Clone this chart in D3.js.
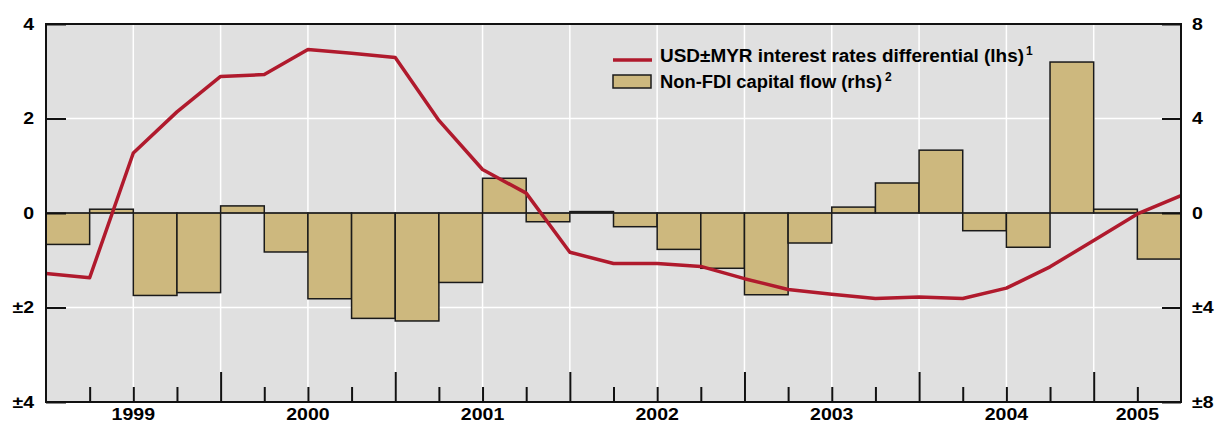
<!DOCTYPE html>
<html>
<head>
<meta charset="utf-8">
<script src="https://cdn.jsdelivr.net/npm/d3@7"></script>
<style>
  body { margin: 0; background: #fff; }
  svg { display: block; font-family: "Liberation Sans", Arial, sans-serif; }
</style>
</head>
<body>
<svg width="1217" height="421"></svg>
<script>
// quarters 1999Q1 .. 2005Q2
const years = [1999, 2000, 2001, 2002, 2003, 2004, 2005];
const quarters = d3.range(26).map(i => `${1999 + Math.floor(i / 4)}Q${i % 4 + 1}`);

// non-FDI capital flow (rhs), one bar per quarter
const capitalFlow = [-1.33, 0.16, -3.49, -3.37, 0.30, -1.65, -3.63, -4.46, -4.57, -2.94,
  1.47, -0.37, 0.06, -0.58, -1.54, -2.34, -3.46, -1.27, 0.25, 1.27,
  2.66, -0.75, -1.45, 6.39, 0.16, -1.95];

// USD-MYR interest rate differential (lhs), at quarter boundaries
const rateDiff = [-1.28, -1.37, 1.27, 2.14, 2.89, 2.93, 3.46, 3.38, 3.29, 1.96,
  0.92, 0.42, -0.83, -1.07, -1.07, -1.13, -1.39, -1.62, -1.72, -1.81,
  -1.78, -1.81, -1.59, -1.14, -0.58, -0.02, 0.37];

const leftTicks = [4, 2, 0, -2, -4];
const rightTicks = [8, 4, 0, -4, -8];

const svg = d3.select('svg');
const plotL = 46, plotR = 1181, plotT = 24, plotB = 402;
const stretch = 1.22; // labels in the original are drawn wide

const x = d3.scaleLinear().domain([0, quarters.length]).range([plotL, plotR]);
const yL = d3.scaleLinear().domain([-4, 4]).range([plotB, plotT]);
const yR = d3.scaleLinear().domain([-8, 8]).range([plotB, plotT]);
const fmt = d => d < 0 ? '\u00b1' + Math.abs(d) : String(d);
// centre of the visible part of each year
const yearMid = i => (i * 4 + Math.min(i * 4 + 4, quarters.length)) / 2;

svg.append('rect')
  .attr('x', plotL).attr('y', plotT)
  .attr('width', plotR - plotL).attr('height', plotB - plotT)
  .attr('fill', '#e0e0e0');

// white grid
const grid = svg.append('g').attr('stroke', '#fff').attr('stroke-width', 1.5);
grid.selectAll('line.v')
  .data(d3.range(2, quarters.length, 2))
  .enter().append('line')
  .attr('x1', d => x(d)).attr('x2', d => x(d))
  .attr('y1', plotT).attr('y2', plotB);
grid.selectAll('line.h')
  .data([2, -2])
  .enter().append('line')
  .attr('x1', plotL).attr('x2', plotR)
  .attr('y1', d => yL(d)).attr('y2', d => yL(d));

// bars
svg.append('g').selectAll('rect')
  .data(capitalFlow)
  .enter().append('rect')
  .attr('x', (d, i) => x(i))
  .attr('width', x(1) - x(0))
  .attr('y', d => yR(Math.max(0, d)))
  .attr('height', d => Math.abs(yR(d) - yR(0)))
  .attr('fill', '#cdb87e')
  .attr('stroke', '#1a1a1a')
  .attr('stroke-width', 1.5);

// zero line
svg.append('line')
  .attr('x1', plotL).attr('x2', plotR)
  .attr('y1', yL(0)).attr('y2', yL(0))
  .attr('stroke', '#222').attr('stroke-width', 1.2);

// rate line
svg.append('path')
  .datum(rateDiff)
  .attr('fill', 'none')
  .attr('stroke', '#b01a2d')
  .attr('stroke-width', 3.5)
  .attr('stroke-linejoin', 'round')
  .attr('d', d3.line().x((d, i) => x(i)).y(d => yL(d)));

// frame
svg.append('path')
  .attr('d', `M${plotL},${plotB}V${plotT}H${plotR}V${plotB}Z`)
  .attr('fill', 'none').attr('stroke', '#111').attr('stroke-width', 2);

// left axis ticks
svg.append('g').attr('transform', `translate(${plotL},0)`)
  .call(d3.axisRight(yL).tickValues(leftTicks).tickSize(20).tickFormat(''))
  .call(g => g.select('.domain').remove())
  .call(g => g.selectAll('line').attr('stroke', '#111').attr('stroke-width', 2));

// right axis ticks
svg.append('g').attr('transform', `translate(${plotR},0)`)
  .call(d3.axisLeft(yR).tickValues(rightTicks).tickSize(19).tickFormat(''))
  .call(g => g.select('.domain').remove())
  .call(g => g.selectAll('line').attr('stroke', '#111').attr('stroke-width', 2));

// bottom axis: quarter ticks, longer at year starts
svg.append('g').attr('transform', `translate(0,${plotB})`)
  .call(d3.axisTop(x).tickValues(d3.range(1, quarters.length)).tickSize(15).tickFormat(''))
  .call(g => g.select('.domain').remove())
  .call(g => g.selectAll('.tick line')
    .attr('y2', d => d % 4 === 0 ? -30 : -15)
    .attr('stroke', '#111').attr('stroke-width', 2));

// tick labels
const labels = svg.append('g')
  .attr('fill', '#000').attr('font-weight', 'bold').attr('font-size', 16);
labels.selectAll('text.l')
  .data(leftTicks)
  .enter().append('text')
  .attr('transform', d => `translate(34,${yL(d)}) scale(${stretch},1)`)
  .attr('dy', '0.36em')
  .attr('text-anchor', 'end')
  .text(fmt);
labels.selectAll('text.r')
  .data(rightTicks)
  .enter().append('text')
  .attr('transform', d => `translate(1192,${yR(d)}) scale(${stretch},1)`)
  .attr('dy', '0.36em')
  .attr('text-anchor', 'start')
  .text(fmt);
labels.selectAll('text.y')
  .data(years)
  .enter().append('text')
  .attr('transform', (d, i) => `translate(${x(yearMid(i))},${plotB + 17.5}) scale(${stretch},1)`)
  .attr('text-anchor', 'middle')
  .text(d => d);

// legend
const lg = svg.append('g').attr('transform', 'translate(612,0)');
lg.append('line')
  .attr('x1', 1).attr('x2', 40).attr('y1', 60).attr('y2', 60)
  .attr('stroke', '#b01a2d').attr('stroke-width', 3.5);
lg.append('rect')
  .attr('x', 1).attr('y', 75).attr('width', 38).attr('height', 13)
  .attr('fill', '#cdb87e').attr('stroke', '#1a1a1a').attr('stroke-width', 1.5);
const t1 = lg.append('text').attr('y', 62).attr('font-size', 17.5).attr('font-weight', 'bold');
t1.append('tspan').attr('x', 48)
  .attr('textLength', 364).attr('lengthAdjust', 'spacingAndGlyphs')
  .text('USD\u00b1MYR interest rates differential (lhs)');
t1.append('tspan').attr('x', 414).attr('dy', -7).attr('font-size', 12).text('1');
const t2 = lg.append('text').attr('y', 88).attr('font-size', 17.5).attr('font-weight', 'bold');
t2.append('tspan').attr('x', 48)
  .attr('textLength', 222).attr('lengthAdjust', 'spacingAndGlyphs')
  .text('Non-FDI capital flow (rhs)');
t2.append('tspan').attr('x', 273).attr('dy', -7).attr('font-size', 12).text('2');
</script>
</body>
</html>
